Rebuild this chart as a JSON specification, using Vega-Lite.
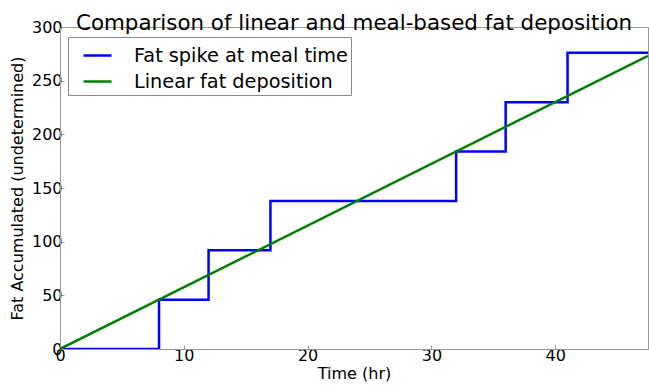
{
  "$schema": "https://vega.github.io/schema/vega-lite/v6.json",
  "width": 588,
  "height": 322,
  "autosize": {"type": "none"},
  "padding": {"left": 60, "top": 27, "right": 1, "bottom": 38},
  "background": "white",
  "config": {
    "font": "DejaVu Sans",
    "view": {"stroke": "#999", "strokeWidth": 1}
  },
  "title": {
    "text": "Comparison of linear and meal-based fat deposition",
    "fontSize": 21.4,
    "fontWeight": "normal",
    "font": "DejaVu Sans",
    "color": "black",
    "anchor": "middle",
    "baseline": "alphabetic",
    "offset": -8,
    "dy": 24
  },
  "datasets": {
    "fat": [
      {"t": 0, "fat": 0, "series": "Fat spike at meal time"},
      {"t": 8, "fat": 46, "series": "Fat spike at meal time"},
      {"t": 12, "fat": 92, "series": "Fat spike at meal time"},
      {"t": 17, "fat": 138, "series": "Fat spike at meal time"},
      {"t": 32, "fat": 184, "series": "Fat spike at meal time"},
      {"t": 36, "fat": 230, "series": "Fat spike at meal time"},
      {"t": 41, "fat": 276, "series": "Fat spike at meal time"},
      {"t": 47.5, "fat": 276, "series": "Fat spike at meal time"},
      {"t": 0, "fat": 0, "series": "Linear fat deposition"},
      {"t": 47.5, "fat": 273.1, "series": "Linear fat deposition"}
    ]
  },
  "data": {"name": "fat"},
  "encoding": {
    "x": {
      "field": "t",
      "type": "quantitative",
      "scale": {"domain": [0, 47.5], "nice": false, "zero": false},
      "axis": {
        "title": "Time (hr)",
        "titleFontSize": 16,
        "titleFontWeight": "normal",
        "titleColor": "black",
        "titlePadding": 2,
        "values": [0, 10, 20, 30, 40],
        "labelFontSize": 16,
        "labelColor": "black",
        "labelPadding": 2,
        "labelFlush": false,
        "grid": false,
        "domainColor": "#999",
        "tickColor": "#999",
        "tickSize": -4,
        "labelOverlap": false
      }
    },
    "y": {
      "field": "fat",
      "type": "quantitative",
      "scale": {"domain": [0, 300], "nice": false},
      "axis": {
        "title": "Fat Accumulated (undetermined)",
        "titleFontSize": 16,
        "titleFontWeight": "normal",
        "titleColor": "black",
        "titlePadding": 6,
        "values": [0, 50, 100, 150, 200, 250, 300],
        "labelFontSize": 16,
        "labelColor": "black",
        "labelPadding": 2,
        "labelFlush": false,
        "grid": false,
        "domainColor": "#999",
        "tickColor": "#999",
        "tickSize": -4,
        "labelOverlap": false
      }
    },
    "color": {
      "field": "series",
      "type": "nominal",
      "scale": {"domain": ["Fat spike at meal time", "Linear fat deposition"], "range": ["#0000ff", "#008000"]},
      "legend": {
        "title": null,
        "orient": "none",
        "legendX": 8,
        "legendY": 10,
        "symbolType": "stroke",
        "symbolStrokeWidth": 2.5,
        "symbolSize": 784,
        "symbolOffset": 11,
        "labelFontSize": 19.3,
        "labelLimit": 0,
        "labelColor": "black",
        "labelOffset": 21,
        "rowPadding": 0,
        "padding": 3,
        "strokeColor": "#888",
        "fillColor": "white",
        "cornerRadius": 0
      }
    }
  },
  "layer": [
    {
      "transform": [{"filter": "datum.series === 'Fat spike at meal time'"}],
      "mark": {"type": "line", "interpolate": "step-after", "strokeWidth": 2.5, "clip": true}
    },
    {
      "transform": [{"filter": "datum.series === 'Linear fat deposition'"}],
      "mark": {"type": "line", "strokeWidth": 2.5, "clip": true}
    }
  ]
}
